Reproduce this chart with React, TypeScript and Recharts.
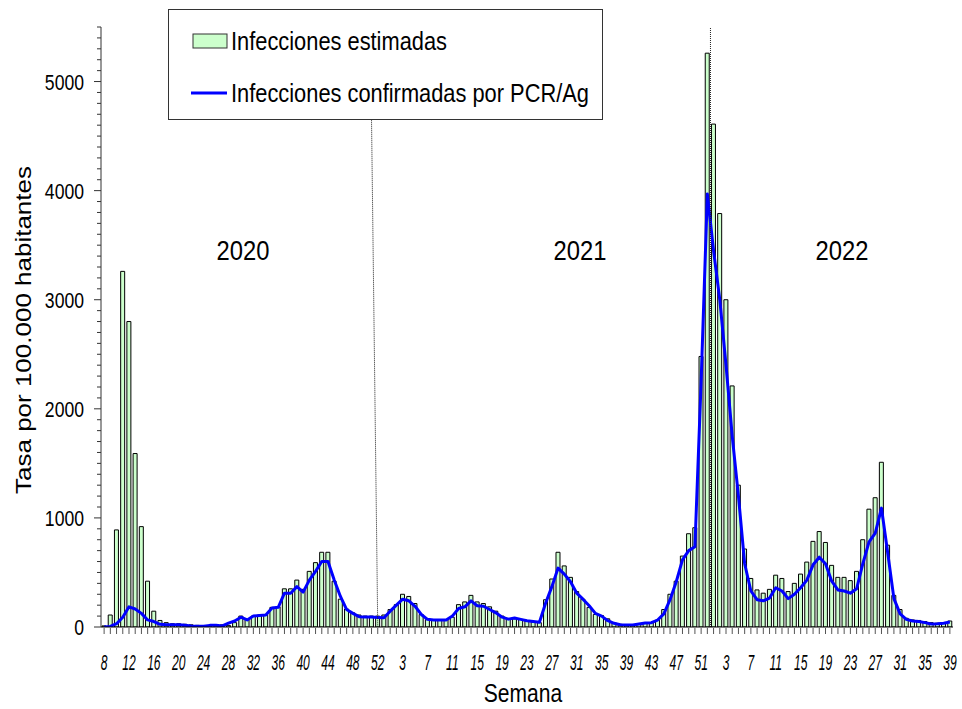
import React from 'react';
import { ComposedChart, Bar, Line, XAxis, YAxis, ReferenceLine, Legend, Customized } from 'recharts';

// Weeks (categories)
const weeks2020 = [8, 9, 10, 11, 12, 13, 14, 15, 16, 17, 18, 19, 20, 21, 22, 23, 24, 25, 26, 27, 28, 29, 30, 31, 32, 33, 34, 35, 36, 37, 38, 39, 40, 41, 42, 43, 44, 45, 46, 47, 48, 49, 50, 51, 52, 53];
const weeks2021 = [1, 2, 3, 4, 5, 6, 7, 8, 9, 10, 11, 12, 13, 14, 15, 16, 17, 18, 19, 20, 21, 22, 23, 24, 25, 26, 27, 28, 29, 30, 31, 32, 33, 34, 35, 36, 37, 38, 39, 40, 41, 42, 43, 44, 45, 46, 47, 48, 49, 50, 51, 52];
const weeks2022 = [1, 2, 3, 4, 5, 6, 7, 8, 9, 10, 11, 12, 13, 14, 15, 16, 17, 18, 19, 20, 21, 22, 23, 24, 25, 26, 27, 28, 29, 30, 31, 32, 33, 34, 35, 36, 37, 38, 39];

// Infecciones estimadas (bars)
const est2020 = [10, 110, 890, 3260, 2800, 1590, 920, 420, 145, 60, 40, 30, 30, 25, 20, 15, 10, 10, 15, 20, 15, 40, 100, 70, 100, 110, 115, 180, 185, 350, 350, 430, 345, 510, 590, 685, 685, 420, 255, 165, 130, 110, 100, 100, 100, 110];
const est2021 = [160, 205, 300, 280, 215, 115, 68, 68, 68, 68, 90, 205, 230, 290, 230, 215, 185, 145, 100, 75, 75, 70, 55, 45, 40, 250, 440, 685, 560, 455, 325, 255, 180, 115, 105, 75, 40, 25, 18, 18, 28, 35, 40, 63, 160, 300, 420, 650, 855, 910, 2480, 5260];
const est2022 = [4610, 3790, 3000, 2210, 1300, 715, 445, 340, 310, 345, 475, 445, 325, 400, 485, 595, 785, 875, 775, 565, 455, 455, 425, 510, 800, 1080, 1185, 1510, 750, 290, 160, 80, 65, 60, 50, 40, 35, 40, 55];

// Infecciones confirmadas por PCR/Ag (line)
const conf2020 = [0, 5, 30, 90, 185, 165, 125, 65, 50, 25, 20, 20, 20, 15, 10, 8, 8, 15, 15, 10, 35, 55, 90, 65, 100, 105, 110, 175, 180, 310, 310, 370, 320, 430, 510, 600, 600, 430, 280, 160, 125, 95, 92, 92, 88, 85];
const conf2021 = [145, 200, 255, 240, 190, 115, 70, 65, 65, 65, 100, 170, 185, 240, 195, 190, 160, 130, 90, 72, 82, 70, 58, 50, 43, 220, 370, 540, 485, 415, 310, 255, 195, 125, 100, 58, 34, 21, 18, 18, 28, 37, 40, 64, 120, 250, 415, 615, 700, 735, 2250, 3970];
const conf2022 = [3450, 3000, 2400, 1750, 1200, 580, 330, 250, 240, 265, 360, 330, 260, 300, 360, 430, 570, 640, 580, 420, 340, 330, 310, 350, 580, 780, 860, 1090, 680, 260, 120, 70, 55, 50, 40, 28, 30, 35, 45];

const yearLabels = ['2020', '2021', '2022'];
const yMajorTicks = [0, 1000, 2000, 3000, 4000, 5000];
const Y_MAX = 5500;
const Y_MINOR_STEP = 100;

const build = (year: string, weeks: number[], est: number[], conf: number[]) =>
  weeks.map((w, i) => ({ key: `${year}-${w}`, week: w, est: est[i], conf: conf[i] }));

const data = [
  ...build('2020', weeks2020, est2020, conf2020),
  ...build('2021', weeks2021, est2021, conf2021),
  ...build('2022', weeks2022, est2022, conf2022),
];

const yTicks: number[] = [];
for (let v = 0; v <= Y_MAX; v += Y_MINOR_STEP) yTicks.push(v);

const FONT = "'Liberation Sans', Arial, sans-serif";
const W = 962;
const H = 709;
const AXIS_X = 101;
const PLOT_BOTTOM = 627;
const GREEN = '#ccffcc';
const BLUE = '#0000ff';

const YTick = (props: any) => {
  const { y, payload } = props;
  const v = payload.value as number;
  const major = yMajorTicks.includes(v);
  return (
    <g>
      <line x1={AXIS_X - (major ? 7 : 4)} x2={AXIS_X} y1={y} y2={y} stroke="#333" strokeWidth={1} />
      {major && (
        <text
          transform={`translate(84,${y + 8}) scale(0.8,1)`}
          textAnchor="end"
          fontSize={22}
          fontFamily={FONT}
          fill="#000"
        >
          {v}
        </text>
      )}
    </g>
  );
};

const XTick = (props: any) => {
  const { x, payload, index } = props;
  const wk = String(payload.value).split('-')[1];
  return (
    <g>
      <line x1={x} x2={x} y1={PLOT_BOTTOM + 1} y2={PLOT_BOTTOM + 7} stroke="#555" strokeWidth={1} />
      {index % 4 === 0 && (
        <text
          transform={`translate(${x},670) scale(0.55,1)`}
          textAnchor="middle"
          fontSize={22}
          fontStyle="italic"
          fontFamily={FONT}
          fill="#000"
        >
          {wk}
        </text>
      )}
    </g>
  );
};

const LegendBox = () => (
  <svg width={435} height={111} style={{ display: 'block' }}>
    <rect x={0.5} y={0.5} width={434} height={110} fill="#fff" stroke="#333" strokeWidth={1} />
    <rect x={25} y={25} width={34} height={14} fill={GREEN} stroke="#333" strokeWidth={1} />
    <text transform="translate(63,41) scale(0.84,1)" fontSize={26} fontFamily={FONT} fill="#000">
      Infecciones estimadas
    </text>
    <line x1={23} x2={59} y1={84} y2={84} stroke={BLUE} strokeWidth={3} />
    <text transform="translate(63,93) scale(0.84,1)" fontSize={26} fontFamily={FONT} fill="#000">
      Infecciones confirmadas por PCR/Ag
    </text>
  </svg>
);

const Annotations = () => (
  <g fontFamily={FONT} fill="#000">
    <text transform="translate(31,330) rotate(-90) scale(1,0.85)" textAnchor="middle" fontSize={26}>
      Tasa por 100.000 habitantes
    </text>
    <text transform="translate(523,702) scale(0.81,1)" textAnchor="middle" fontSize={26}>
      Semana
    </text>
    <text transform="translate(243,260) scale(0.85,1)" textAnchor="middle" fontSize={28}>
      {yearLabels[0]}
    </text>
    <text transform="translate(580,260) scale(0.85,1)" textAnchor="middle" fontSize={28}>
      {yearLabels[1]}
    </text>
    <text transform="translate(842,260) scale(0.85,1)" textAnchor="middle" fontSize={28}>
      {yearLabels[2]}
    </text>
  </g>
);

export default function App() {
  return (
    <div style={{ position: 'absolute', left: 0, top: 0, width: W, height: H, background: '#fff' }}>
      <ComposedChart
        width={W}
        height={H}
        data={data}
        margin={{ top: 27, right: 9, left: 0, bottom: 0 }}
        barCategoryGap={0}
      >
        <XAxis
          dataKey="key"
          interval={0}
          height={82}
          tickLine={false}
          tick={<XTick />}
          axisLine={{ stroke: '#000', strokeWidth: 1 }}
        />
        <YAxis
          width={101}
          domain={[0, Y_MAX]}
          ticks={yTicks}
          interval={0}
          tickLine={false}
          tick={<YTick />}
          axisLine={{ stroke: '#333', strokeWidth: 1 }}
          allowDataOverflow
        />
        <Legend
          layout="horizontal"
          verticalAlign="middle"
          align="center"
          wrapperStyle={{ left: 168, top: 9, width: 435, height: 111 }}
          content={() => <LegendBox />}
        />
        <Bar dataKey="est" name="Infecciones estimadas" fill={GREEN} stroke="#000" strokeWidth={1} barSize={4} isAnimationActive={false} />
        <Line
          dataKey="conf"
          name="Infecciones confirmadas por PCR/Ag"
          type="linear"
          stroke={BLUE}
          strokeWidth={3}
          strokeLinejoin="round"
          dot={false}
          activeDot={false}
          isAnimationActive={false}
        />
        <ReferenceLine
          segment={[{ x: '2020-51', y: 4650 }, { x: '2020-52', y: 0 }]}
          stroke="#222"
          strokeDasharray="1 1"
          strokeWidth={1}
        />
        <ReferenceLine x="2022-1" position="start" stroke="#222" strokeDasharray="1 1" strokeWidth={1} />
        <Customized component={Annotations} />
      </ComposedChart>
    </div>
  );
}
